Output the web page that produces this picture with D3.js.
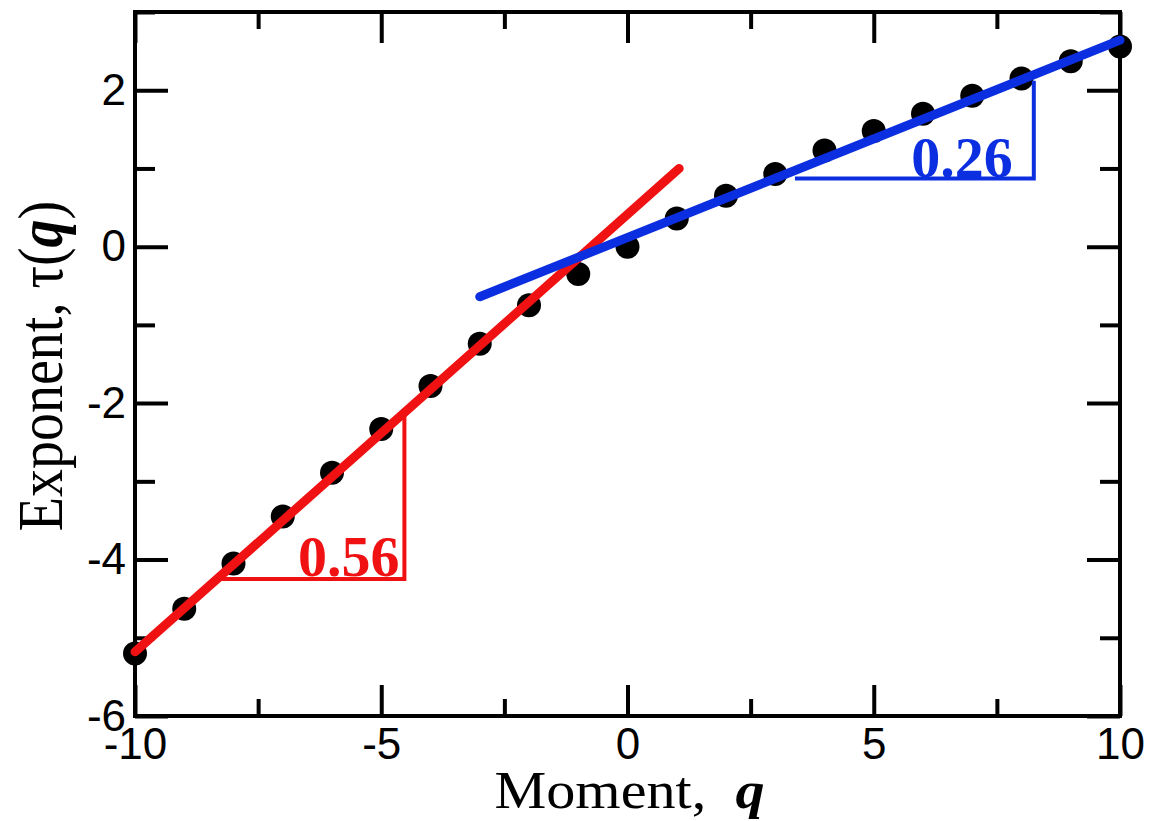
<!DOCTYPE html>
<html>
<head>
<meta charset="utf-8">
<script src="https://cdn.jsdelivr.net/npm/d3@7"></script>
<style>
  html, body { margin: 0; padding: 0; background: #fff; }
  svg { display: block; }
</style>
</head>
<body>
<div id="chart"></div>
<script>
// Data
const moments = [-10, -9, -8, -7, -6, -5, -4, -3, -2, -1, 0, 1, 2, 3, 4, 5, 6, 7, 8, 9, 10];
const exponents = [-5.2, -4.63, -4.05, -3.45, -2.89, -2.33, -1.78, -1.24, -0.75, -0.35, 0.0,
  0.36, 0.65, 0.93, 1.23, 1.48, 1.70, 1.93, 2.15, 2.37, 2.56];

// fitted straight lines (end points)
const redFit = [[-10, -5.18], [1.05, 1.0]];
const blueFit = [[-3, -0.64], [10, 2.64]];

// slope triangles
const redTriangle = [[-8.25, -4.25], [-4.53, -4.25], [-4.53, -2.12]];
const blueTriangle = [[3.4, 0.87], [8.25, 0.87], [8.25, 2.12]];
const redSlope = '0.56';
const blueSlope = '0.26';

const xMajor = [-10, -5, 0, 5, 10];
const xMinor = [-7.5, -2.5, 2.5, 7.5];
const yMajor = [-6, -4, -2, 0, 2];
const yMinor = [-5, -3, -1, 1, 3];

// Canvas
const width = 1150;
const height = 821;
const plotLeft = 135;
const plotRight = 1120;
const plotTop = 12;
const plotBottom = 716;

const red = '#f01212';
const blue = '#0b2fe0';

const svg = d3.select('#chart')
  .append('svg')
  .attr('width', width)
  .attr('height', height);

const x = d3.scaleLinear().domain([-10, 10]).range([plotLeft, plotRight]);
const y = d3.scaleLinear().domain([-6, 3]).range([plotBottom, plotTop]);

// Axes, ticks pointing inwards on all four sides
const tickFont = '"Liberation Sans", Arial, sans-serif';
const plain = (d) => String(d); // keep the ASCII hyphen as minus sign

const addAxis = (axis, tx, ty) => {
  const g = svg.append('g').attr('transform', `translate(${tx}, ${ty})`).call(axis);
  g.select('.domain').remove();
  g.selectAll('line').attr('stroke', '#000').attr('stroke-width', 4);
  g.selectAll('text').attr('font-family', tickFont).attr('font-size', 44).attr('fill', '#000');
  return g;
};

addAxis(d3.axisBottom(x).tickValues(xMajor).tickSize(-31).tickPadding(12).tickFormat(plain), 0, plotBottom);
addAxis(d3.axisBottom(x).tickValues(xMinor).tickSize(-17).tickFormat(''), 0, plotBottom);
addAxis(d3.axisTop(x).tickValues(xMajor).tickSize(-31).tickFormat(''), 0, plotTop);
addAxis(d3.axisTop(x).tickValues(xMinor).tickSize(-17).tickFormat(''), 0, plotTop);

addAxis(d3.axisLeft(y).tickValues(yMajor).tickSize(-33).tickPadding(9).tickFormat(plain), plotLeft, 0);
addAxis(d3.axisLeft(y).tickValues(yMinor).tickSize(-20).tickFormat(''), plotLeft, 0);
addAxis(d3.axisRight(y).tickValues(yMajor).tickSize(-33).tickFormat(''), plotRight, 0);
addAxis(d3.axisRight(y).tickValues(yMinor).tickSize(-20).tickFormat(''), plotRight, 0);

// Frame
svg.append('rect')
  .attr('x', plotLeft)
  .attr('y', plotTop)
  .attr('width', plotRight - plotLeft)
  .attr('height', plotBottom - plotTop)
  .attr('fill', 'none')
  .attr('stroke', '#000')
  .attr('stroke-width', 4);

// Data points
const points = moments.map((q, i) => ({ q, t: exponents[i] }));
svg.append('g').selectAll('circle')
  .data(points).enter()
  .append('circle')
  .attr('cx', (d) => x(d.q))
  .attr('cy', (d) => y(d.t))
  .attr('r', 12)
  .attr('fill', '#000');

// Fit lines
const line = d3.line().x((d) => x(d[0])).y((d) => y(d[1]));

svg.append('path')
  .datum(redFit)
  .attr('d', line)
  .attr('fill', 'none')
  .attr('stroke', red)
  .attr('stroke-width', 9)
  .attr('stroke-linecap', 'round');

svg.append('path')
  .datum(blueFit)
  .attr('d', line)
  .attr('fill', 'none')
  .attr('stroke', blue)
  .attr('stroke-width', 9)
  .attr('stroke-linecap', 'round');

// Slope triangles
svg.append('path')
  .datum(redTriangle)
  .attr('d', line)
  .attr('fill', 'none')
  .attr('stroke', red)
  .attr('stroke-width', 4);

svg.append('path')
  .datum(blueTriangle)
  .attr('d', line)
  .attr('fill', 'none')
  .attr('stroke', blue)
  .attr('stroke-width', 4);

const serif = '"Liberation Serif", "Times New Roman", serif';

svg.append('text')
  .attr('x', x(redTriangle[1][0]) - 5)
  .attr('y', y(redTriangle[1][1]) - 3)
  .attr('text-anchor', 'end')
  .attr('font-family', serif)
  .attr('font-weight', 'bold')
  .attr('font-size', 58)
  .attr('fill', red)
  .text(redSlope);

svg.append('text')
  .attr('x', x(blueTriangle[1][0]) - 21)
  .attr('y', y(blueTriangle[1][1]) - 2)
  .attr('text-anchor', 'end')
  .attr('font-family', serif)
  .attr('font-weight', 'bold')
  .attr('font-size', 58)
  .attr('fill', blue)
  .text(blueSlope);

// Axis titles
const xTitle = svg.append('text')
  .attr('text-anchor', 'middle')
  .attr('font-family', serif)
  .attr('font-size', 52)
  .attr('fill', '#000')
  .attr('transform', `translate(${(plotLeft + plotRight) / 2 + 2}, 808) scale(1.12, 1)`);
xTitle.append('tspan').text('Moment,\u00a0\u00a0');
xTitle.append('tspan').attr('font-weight', 'bold').attr('font-style', 'italic').text('q');

const yTitle = svg.append('text')
  .attr('text-anchor', 'middle')
  .attr('font-family', serif)
  .attr('font-size', 56)
  .attr('fill', '#000')
  .attr('transform', 'translate(62, 366) scale(1.12, 1) rotate(-90)');
yTitle.append('tspan').text('Exponent, \u03c4(');
yTitle.append('tspan').attr('font-weight', 'bold').attr('font-style', 'italic').text('q');
yTitle.append('tspan').text(')');
</script>
</body>
</html>
